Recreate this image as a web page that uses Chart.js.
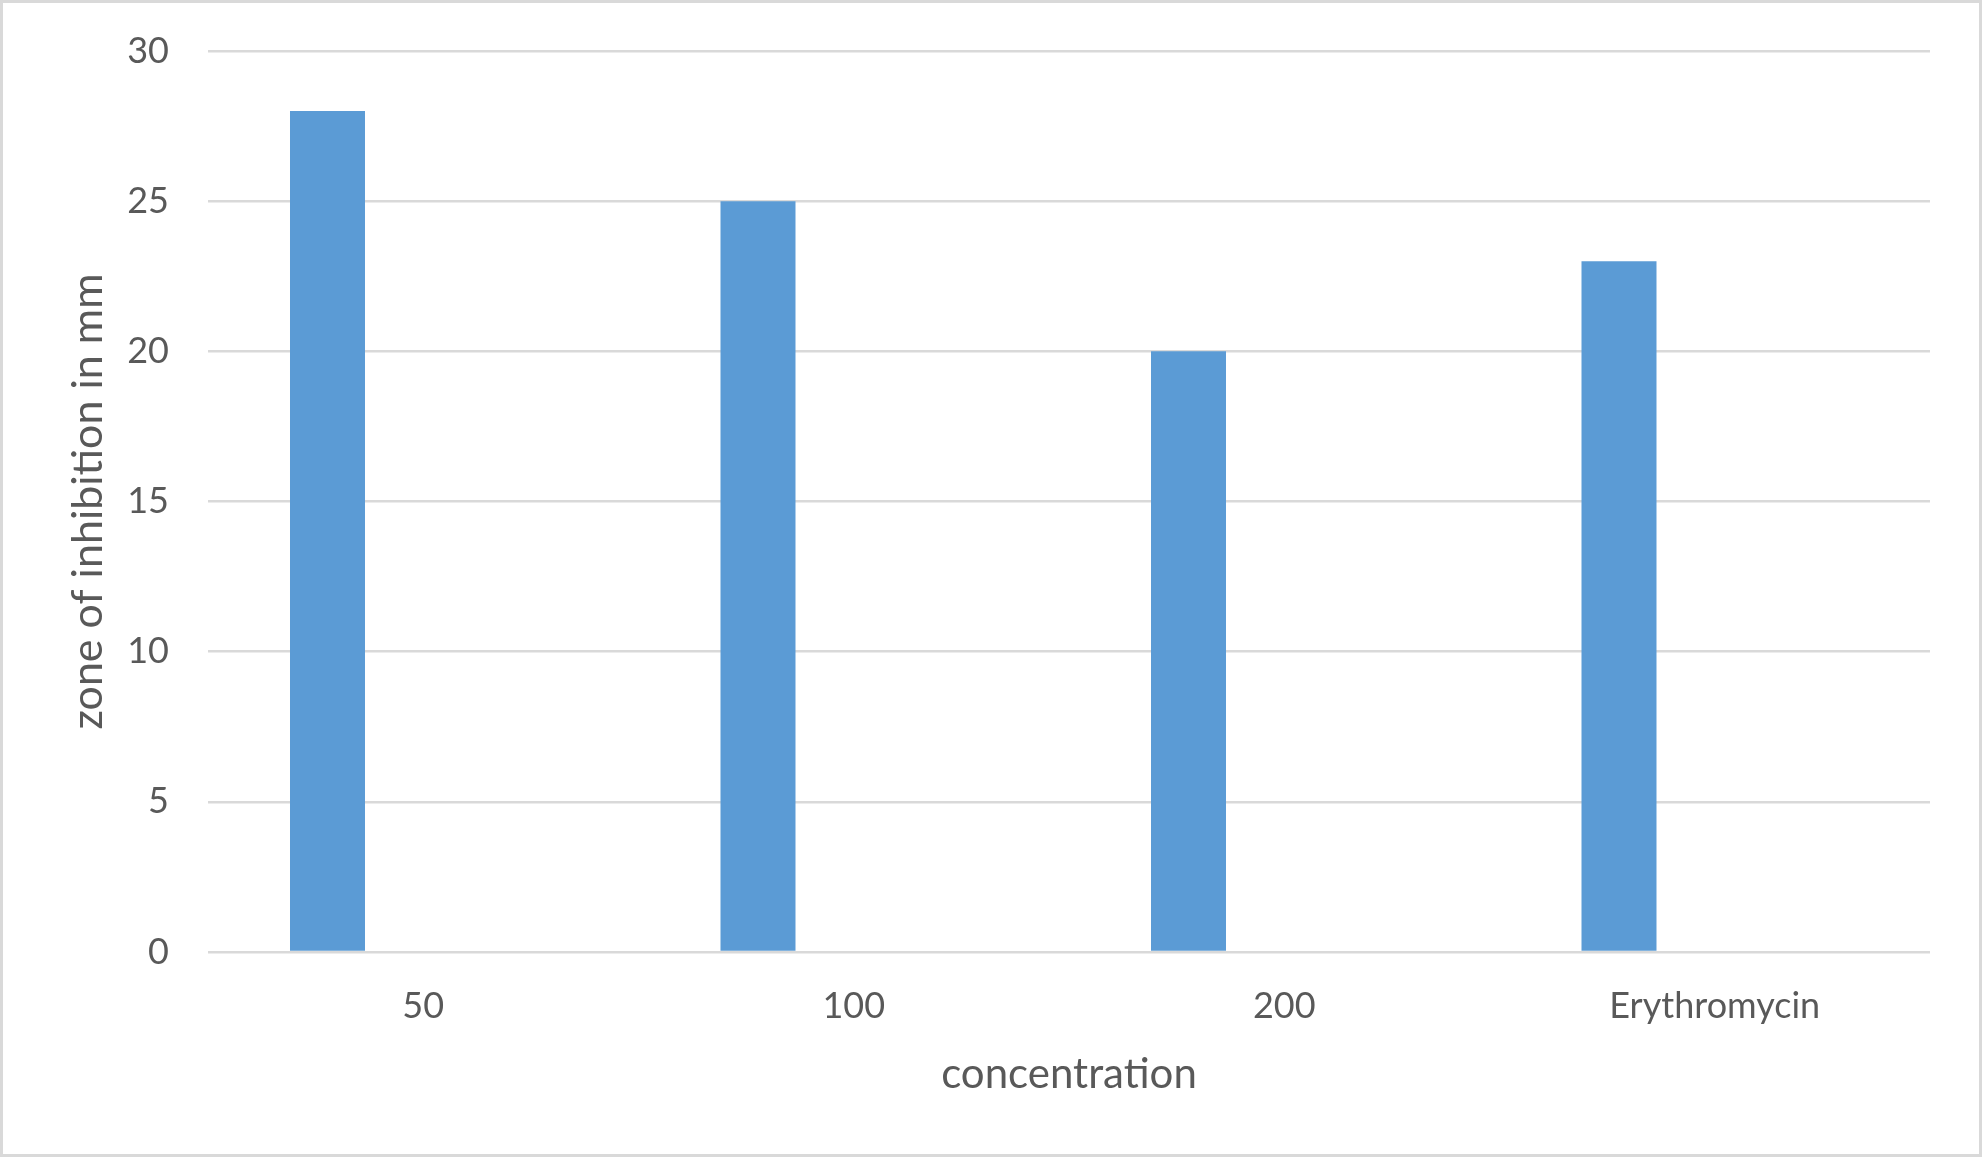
<!DOCTYPE html>
<html>
<head>
<meta charset="utf-8">
<script src="https://cdn.jsdelivr.net/npm/chart.js@4"></script>
<style>
    html, body { margin: 0; padding: 0; background: #ffffff; }
    #wrap { width: 1982px; height: 1157px; }
</style>
</head>
<body>
<div id="wrap"><canvas id="zoneChart" width="1982" height="1157"></canvas></div>
<script>
// Data
const concentrations = ['50', '100', '200', 'Erythromycin'];
const zoneValues = [28, 25, 20, 23];
// second series is empty in the source chart, it only reserves the slot to the right of each bar
const emptySeries = [null, null, null, null];
const yTicks = [0, 5, 10, 15, 20, 25, 30];

const textColor = '#595959';
const gridColor = '#d9d9d9';
const fontFamily = 'Lato, "Open Sans", sans-serif';

// grey frame around the chart
const framePlugin = {
    id: 'frame',
    beforeDraw(chart) {
        const ctx = chart.ctx;
        ctx.save();
        ctx.fillStyle = '#ffffff';
        ctx.fillRect(0, 0, chart.width, chart.height);
        ctx.strokeStyle = gridColor;
        ctx.lineWidth = 3;
        ctx.strokeRect(1.5, 1.5, chart.width - 3, chart.height - 3);
        ctx.restore();
    }
};

const ctx = document.getElementById('zoneChart').getContext('2d');
const zoneChart = new Chart(ctx, {
    type: 'bar',
    data: {
        labels: concentrations,
        datasets: [
            {
                label: 'zone of inhibition',
                data: zoneValues,
                backgroundColor: '#5b9bd5',
                borderWidth: 0
            },
            {
                label: 'empty',
                data: emptySeries,
                backgroundColor: '#ed7d31',
                borderWidth: 0
            }
        ]
    },
    options: {
        responsive: false,
        animation: false,
        categoryPercentage: 0.8897,
        barPercentage: 0.3916,
        layout: { padding: { left: 0, top: 51, right: 52, bottom: 0 } },
        plugins: {
            legend: { display: false },
            tooltip: { enabled: false }
        },
        scales: {
            x: {
                grid: { display: false, drawTicks: false },
                border: { display: false },
                ticks: {
                    color: textColor,
                    font: { family: fontFamily, size: 36 },
                    padding: 33,
                    maxRotation: 0
                },
                title: {
                    display: true,
                    text: 'concentration',
                    color: textColor,
                    font: { family: fontFamily, size: 42 },
                    padding: { top: 0, bottom: 57 }
                },
                afterFit: s => { s.height = 205; }
            },
            y: {
                min: 0,
                max: 30,
                afterBuildTicks: s => { s.ticks = yTicks.map(v => ({ value: v })); },
                grid: { color: gridColor, lineWidth: 2.6, drawTicks: false },
                border: { display: false },
                ticks: {
                    color: textColor,
                    font: { family: fontFamily, size: 36 },
                    padding: 39
                },
                title: {
                    display: true,
                    text: 'zone of inhibition in mm',
                    color: textColor,
                    font: { family: fontFamily, size: 43 },
                    padding: { top: 62, bottom: 0 }
                },
                afterFit: s => {
                    s.width = 208;
                    s.paddingTop = 0;
                    s.paddingBottom = 0;
                }
            }
        }
    },
    plugins: [framePlugin]
});
</script>
</body>
</html>
